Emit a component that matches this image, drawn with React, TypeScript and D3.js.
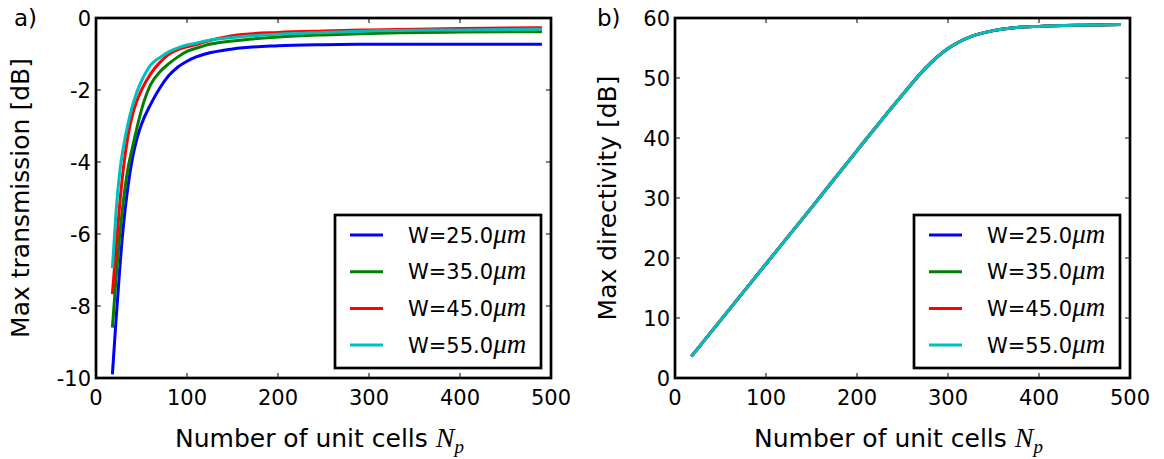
import React from 'react';
import * as d3 from 'd3';

// legend labels and matplotlib classic colours (b, g, r, c)
const widths = ['25.0', '35.0', '45.0', '55.0'];
const colors = ['#0000ff', '#008000', '#ff0000', '#00bfbf'];

// a) max transmission [dB] vs number of unit cells
const npTrans = [18, 22, 26, 30, 35, 40, 45, 50, 60, 70, 80, 90, 100, 110, 120, 150, 200, 250, 300, 400, 490];
const transW25 = [-9.9, -8.4, -7.0, -5.8, -4.7, -3.9, -3.35, -2.95, -2.4, -1.95, -1.6, -1.36, -1.2, -1.08, -1.0, -0.86, -0.77, -0.74, -0.73, -0.73, -0.73];
const transW35 = [-8.6, -7.25, -6.05, -5.1, -4.2, -3.6, -3.05, -2.55, -1.85, -1.5, -1.27, -1.08, -0.93, -0.84, -0.76, -0.64, -0.53, -0.47, -0.43, -0.39, -0.38];
const transW45 = [-7.67, -6.4, -5.2, -4.2, -3.3, -2.7, -2.3, -2.0, -1.55, -1.24, -1.01, -0.88, -0.8, -0.74, -0.66, -0.49, -0.4, -0.36, -0.33, -0.29, -0.27];
const transW55 = [-6.95, -5.4, -4.3, -3.6, -2.95, -2.45, -2.05, -1.75, -1.31, -1.1, -0.94, -0.83, -0.75, -0.7, -0.64, -0.54, -0.45, -0.4, -0.36, -0.33, -0.31];

// b) max directivity [dB] -- the four widths lie on top of each other
const npDir = [18, 50, 100, 150, 200, 250, 275, 300, 325, 350, 375, 400, 450, 490];
const directivity = [3.6, 9.6, 19.0, 28.4, 37.9, 47.2, 51.6, 54.9, 56.9, 57.9, 58.4, 58.6, 58.8, 58.9];

const xTicks = [0, 100, 200, 300, 400, 500];
const transTicks = [0, -2, -4, -6, -8, -10];
const dirTicks = [0, 10, 20, 30, 40, 50, 60];

const SANS = 'DejaVu Sans';
const MATH = 'Liberation Serif';

type PanelProps = {
  left: number;
  right: number;
  tag: string;
  tagX: number;
  yLabel: string;
  yLabelX: number;
  yDomain: [number, number];
  yTicks: number[];
  xs: number[];
  series: number[][];
};

function Panel({ left, right, tag, tagX, yLabel, yLabelX, yDomain, yTicks, xs, series }: PanelProps) {
  const top = 18;
  const bottom = 378;
  const x = d3.scaleLinear().domain([0, 500]).range([left, right]);
  const y = d3.scaleLinear().domain(yDomain).range([bottom, top]);
  const line = d3
    .line<number>()
    .x((_, i) => x(xs[i]))
    .y((d) => y(d))
    .curve(d3.curveMonotoneX);

  const tickLen = 5;
  const legW = 206;
  const legH = 153;
  const legX = right - 10 - legW;
  const legY = bottom - 10 - legH;

  return (
    <g>
      {series.map((s, i) => (
        <path key={i} d={line(s) || ''} fill="none" stroke={colors[i]} strokeWidth={3} strokeLinejoin="round" />
      ))}

      {/* ticks on all four sides, pointing in */}
      {xTicks.map((t) => (
        <g key={'x' + t}>
          <line x1={x(t)} x2={x(t)} y1={bottom} y2={bottom - tickLen} stroke="black" strokeWidth={1} />
          <line x1={x(t)} x2={x(t)} y1={top} y2={top + tickLen} stroke="black" strokeWidth={1} />
          <text x={x(t)} y={405} textAnchor="middle" fontSize={21} fontFamily={SANS}>
            {t}
          </text>
        </g>
      ))}
      {yTicks.map((t) => (
        <g key={'y' + t}>
          <line x1={left} x2={left + tickLen} y1={y(t)} y2={y(t)} stroke="black" strokeWidth={1} />
          <line x1={right} x2={right - tickLen} y1={y(t)} y2={y(t)} stroke="black" strokeWidth={1} />
          <text x={left - 5} y={y(t) + 7.6} textAnchor="end" fontSize={21} fontFamily={SANS}>
            {String(t)}
          </text>
        </g>
      ))}

      <rect x={left} y={top} width={right - left} height={bottom - top} fill="none" stroke="black" strokeWidth={2.7} />

      {/* legend */}
      <rect x={legX} y={legY} width={legW} height={legH} fill="white" stroke="black" strokeWidth={2.7} />
      {widths.map((w, i) => {
        const ly = legY + 20 + i * 36.7;
        return (
          <g key={w}>
            <line x1={legX + 15} x2={legX + 48} y1={ly} y2={ly} stroke={colors[i]} strokeWidth={3} />
            <text x={legX + 73} y={ly + 7.5} fontSize={21} fontFamily={SANS}>
              {`W=${w}`}
              <tspan fontFamily={MATH} fontStyle="italic" fontSize={27}>
                μm
              </tspan>
            </text>
          </g>
        );
      })}

      {/* labels */}
      <text x={(left + right) / 2 - 4} y={447} textAnchor="middle" fontSize={25} fontFamily={SANS}>
        Number of unit cells{' '}
        <tspan fontFamily={MATH} fontStyle="italic" fontSize={28}>
          N
        </tspan>
        <tspan fontFamily={MATH} fontStyle="italic" fontSize={19} dy={6}>
          p
        </tspan>
      </text>
      <text
        transform={`translate(${yLabelX},${(top + bottom) / 2}) rotate(-90)`}
        textAnchor="middle"
        fontSize={25}
        fontFamily={SANS}
      >
        {yLabel}
      </text>
      <text x={tagX} y={26} fontSize={23} fontFamily={SANS}>
        {tag}
      </text>
    </g>
  );
}

export default function App() {
  return (
    <svg
      width={1164}
      height={459}
      style={{ position: 'absolute', left: 0, top: 0, background: 'white' }}
    >
      <Panel
        left={96}
        right={551}
        tag="a)"
        tagX={14}
        yLabel="Max transmission [dB]"
        yLabelX={29}
        yDomain={[-10, 0]}
        yTicks={transTicks}
        xs={npTrans}
        series={[transW25, transW35, transW45, transW55]}
      />
      <Panel
        left={675}
        right={1130}
        tag="b)"
        tagX={597}
        yLabel="Max directivity [dB]"
        yLabelX={616}
        yDomain={[0, 60]}
        yTicks={dirTicks}
        xs={npDir}
        series={[directivity, directivity, directivity, directivity]}
      />
    </svg>
  );
}
